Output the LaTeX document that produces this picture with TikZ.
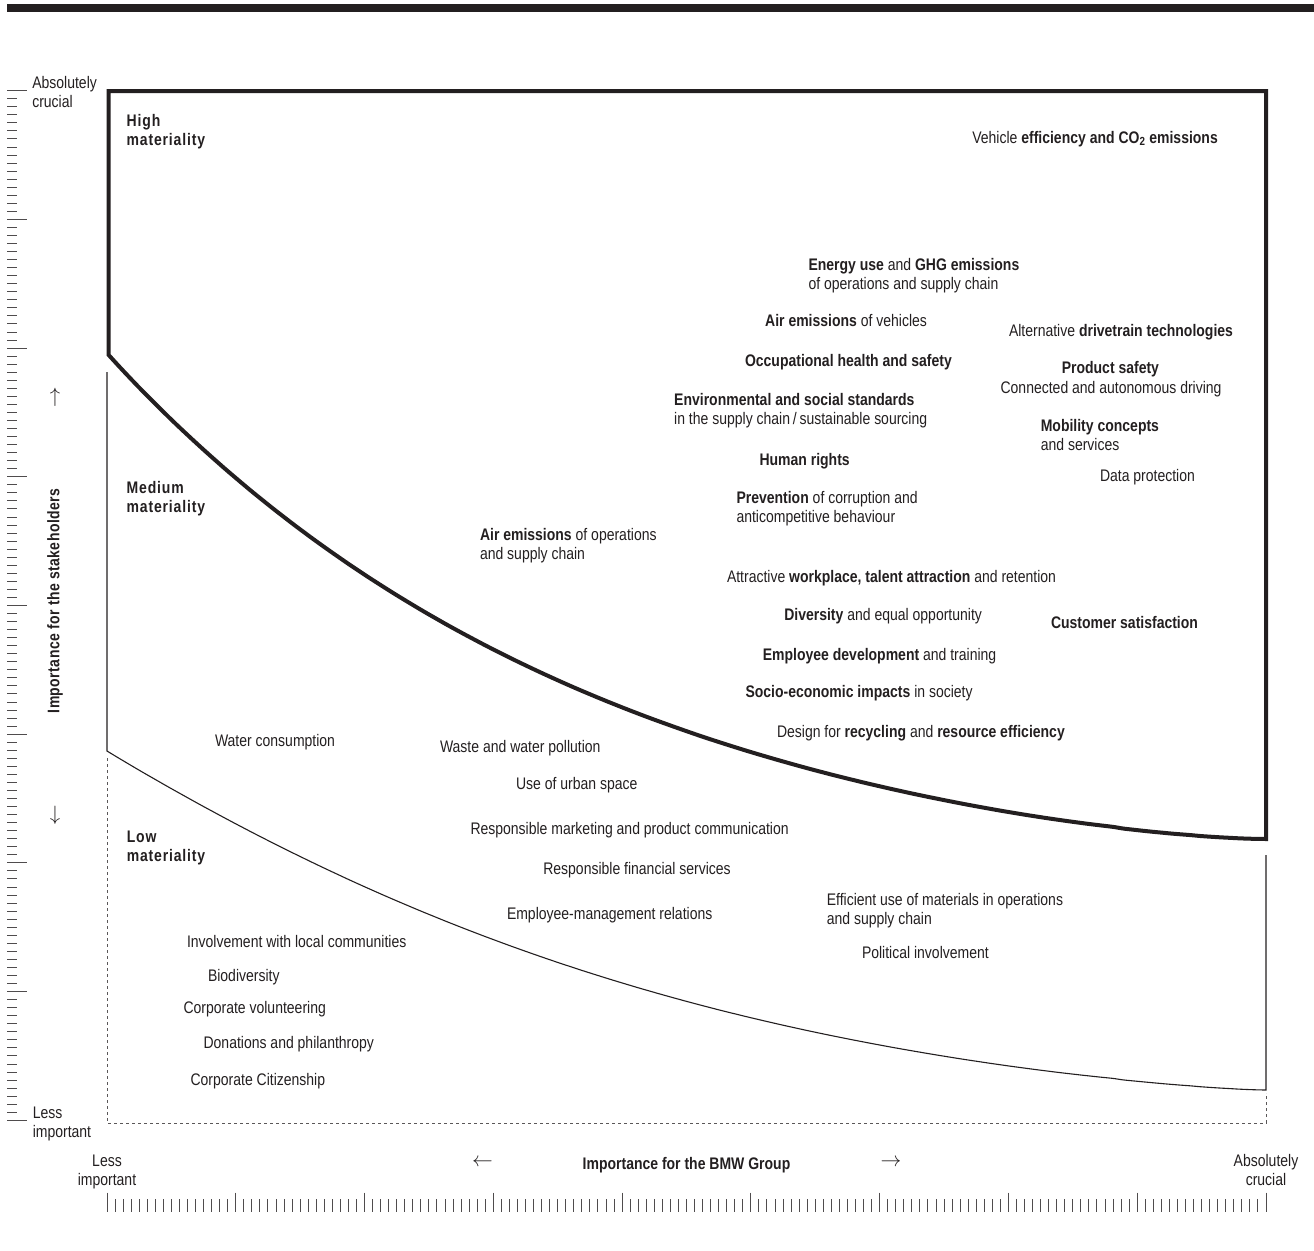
\documentclass[tikz,border=0pt]{standalone}
\usepackage{fontspec}
\setmainfont{Liberation Sans}[FakeStretch=0.835]
\newfontfamily\catfont{Liberation Sans}[FakeStretch=0.835,LetterSpace=5]
\newfontfamily\axisfont{Liberation Sans}[FakeStretch=0.835,LetterSpace=2.5]
\definecolor{ink}{RGB}{35,31,32}
\begin{document}
\begin{tikzpicture}[x=1pt,y=-1pt,
  lbl/.style={anchor=base west, inner sep=0pt, outer sep=0pt, text=ink, align=left, font=\fontsize{16.76}{19}\selectfont},
  catlbl/.style={lbl, font=\catfont\bfseries\fontsize{16.76}{19}\selectfont},
  ctrlbl/.style={lbl, anchor=base, align=center},
  arrowglyph/.style={inner sep=0pt, outer sep=0pt, text=ink, font=\fontsize{20.74}{21}\selectfont},
  thickline/.style={line width=4pt, draw=ink, line join=miter},
  thinline/.style={line width=1.1pt, draw=ink},
  dashline/.style={line width=1pt, draw=ink!75, dash pattern=on 3pt off 3pt},
  tickline/.style={line width=1pt, draw=ink!80}]
\useasboundingbox (0,0) rectangle (1314,1250);
% top bar
\fill[ink] (7,3.5) rectangle (1314,11.5);

% vertical axis ticks
\foreach \i in {0,...,128}{
  \pgfmathsetmacro{\yy}{90.7+\i*8.04375}
  \pgfmathtruncatemacro{\mm}{mod(\i,16)}
  \ifnum\mm=0 \draw[tickline] (7,\yy) -- (27,\yy); \else \draw[tickline] (7,\yy) -- (17,\yy); \fi
}
% horizontal axis ticks
\foreach \i in {0,...,144}{
  \pgfmathsetmacro{\xx}{107+\i*8.04861}
  \pgfmathtruncatemacro{\mm}{mod(\i,16)}
  \ifnum\mm=0 \draw[tickline] (\xx,1192.7) -- (\xx,1211.7); \else \draw[tickline] (\xx,1199) -- (\xx,1211.7); \fi
}

% high materiality frame
\draw[thickline] (1266,839) -- (1266,91) -- (108.7,91) -- (108.7,355)
  -- plot[domain=0:0.995, samples=120, variable=\w, smooth] ({108.7+1157.3*\w},{839-484*exp((2.62-0.9*\w)*ln(1-\w))})
  -- (1266,839) -- cycle;
% medium materiality boundary
\draw[thinline] (107,372) -- (107,751)
  -- plot[domain=0:0.995, samples=120, variable=\w, smooth] ({107+1159*\w},{1090-339*exp((2.06-0.5*\w*\w)*ln(1-\w))})
  -- (1266,1090) -- (1266,855);
% low materiality boundary
\draw[dashline] (107,758) -- (107,1123) -- (1266,1123) -- (1266,1093);

% axis labels
\node[lbl] (ytop) at (32.3,107.7) {Absolutely\\crucial};
\node[lbl] (ybot) at (32.8,1137) {Less\\important};
\node[ctrlbl] (xl) at (107,1185.7) {Less\\important};
\node[ctrlbl] (xr) at (1266,1185.7) {Absolutely\\crucial};
\node[ctrlbl, font=\bfseries\fontsize{16.76}{19}\selectfont] (xt) at (686.5,1169) {Importance for the BMW Group};
\node[inner sep=0pt, text=ink, rotate=90, font=\axisfont\bfseries\fontsize{16.76}{19}\selectfont] (yt) at (55,601) {Importance for the stakeholders};
\node[arrowglyph] (larr) at (482.5,1163) {$\leftarrow$};
\node[arrowglyph] (rarr) at (891,1163) {$\rightarrow$};
\node[arrowglyph] (uarr) at (55,397) {$\uparrow$};
\node[arrowglyph] (darr) at (55,815) {$\downarrow$};

% category labels
\node[catlbl] (hi) at (126.7,145.7) {High\\materiality};
\node[catlbl] (me) at (126.7,512) {Medium\\materiality};
\node[catlbl] (lo) at (126.8,861.7) {Low\\materiality};

% topics
\node[lbl] (v1) at (972.3,143.3) {Vehicle \textbf{efficiency and CO\textsubscript{2} emissions}};
\node[lbl] (e1) at (808.5,289.7) {\textbf{Energy use} and \textbf{GHG emissions}\\of operations and supply chain};
\node[lbl] (a1) at (765.2,326.7) {\textbf{Air emissions} of vehicles};
\node[lbl] (d1) at (1009,336.7) {Alternative \textbf{drivetrain technologies}};
\node[lbl] (o1) at (745,366) {\textbf{Occupational health and safety}};
\node[lbl] (p1) at (1061.8,373.3) {\textbf{Product safety}};
\node[lbl] (c1) at (1000.6,393.3) {Connected and autonomous driving};
\node[lbl] (s1) at (674.2,424) {\textbf{Environmental and social standards}\\in the supply chain\,/\,sustainable sourcing};
\node[lbl] (m1) at (1040.8,450.7) {\textbf{Mobility concepts}\\and services};
\node[lbl] (h1) at (759.5,465) {\textbf{Human rights}};
\node[lbl] (dp) at (1100,481.7) {Data protection};
\node[lbl] (pr) at (736.5,522.3) {\textbf{Prevention} of corruption and\\anticompetitive behaviour};
\node[lbl] (ae) at (480,559) {\textbf{Air emissions} of operations\\and supply chain};
\node[lbl] (wk) at (727,582) {Attractive \textbf{workplace, talent attraction} and retention};
\node[lbl] (dv) at (784.3,620) {\textbf{Diversity} and equal opportunity};
\node[lbl] (cs) at (1051,628.3) {\textbf{Customer satisfaction}};
\node[lbl] (ed) at (762.9,660) {\textbf{Employee development} and training};
\node[lbl] (se) at (745.5,697.7) {\textbf{Socio-economic impacts} in society};
\node[lbl] (dr) at (777,737.7) {Design for \textbf{recycling} and \textbf{resource efficiency}};
\node[lbl] (wc) at (215,746.7) {Water consumption};
\node[lbl] (ww) at (440,752.7) {Waste and water pollution};
\node[lbl] (uu) at (516,789.3) {Use of urban space};
\node[lbl] (rm) at (470.5,834.3) {Responsible marketing and product communication};
\node[lbl] (rf) at (543.3,874.3) {Responsible financial services};
\node[lbl] (em) at (507,919) {Employee-management relations};
\node[lbl] (eu) at (826.8,924) {Efficient use of materials in operations\\and supply chain};
\node[lbl] (pi) at (862,958.3) {Political involvement};
\node[lbl] (il) at (187,947.7) {Involvement with local communities};
\node[lbl] (bd) at (208,981) {Biodiversity};
\node[lbl] (cv) at (183.5,1013.3) {Corporate volunteering};
\node[lbl] (dn) at (203.6,1048.3) {Donations and philanthropy};
\node[lbl] (cc) at (190.6,1085) {Corporate Citizenship};
\end{tikzpicture}
\end{document}
